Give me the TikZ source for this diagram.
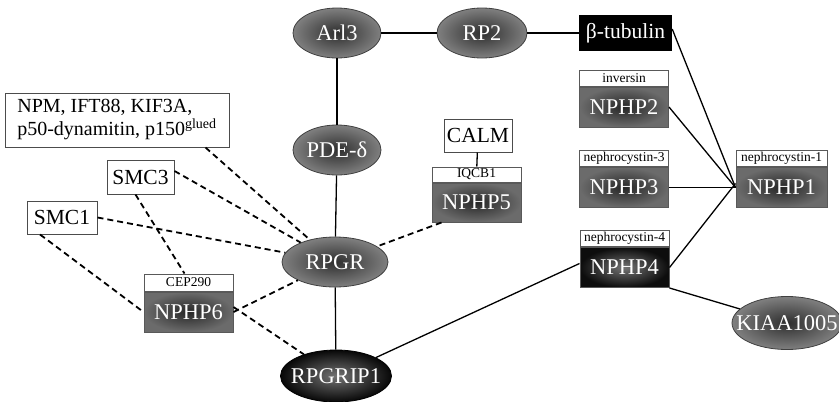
\documentclass[tikz,border=0pt]{standalone}
\usepackage{fontspec}
\setmainfont{Liberation Serif}
\usetikzlibrary{shapes.geometric}
\newcommand{\zw}[1]{\makebox[0pt]{#1}}
\begin{document}
\begin{tikzpicture}[x=1pt,y=-1pt,
  big/.style={font=\fontsize{22.5}{24}\selectfont},
  mid/.style={font=\fontsize{21.5}{24}\selectfont},
  oval/.style={ellipse,draw=black!75,line width=0.8pt,inner sep=0pt,big,text=white,
     inner color=black!82,outer color=black!50},
  darkoval/.style={ellipse,draw=black,line width=0.8pt,inner sep=0pt,big,text=white,
     inner color=black!55,outer color=black!97},
  wbox/.style={rectangle,draw=black!70,line width=1pt,fill=white,inner sep=0pt,mid},
  hdr/.style={rectangle,draw=black!65,line width=1pt,fill=white,inner sep=0pt,
     minimum width=89pt,minimum height=16pt,font=\fontsize{13.5}{14}\selectfont},
  mainbox/.style={rectangle,draw=black!65,line width=1pt,inner sep=0pt,big,text=white,
     minimum width=89pt,minimum height=40pt,inner color=black!85,outer color=black!58},
  darkbox/.style={mainbox,inner color=black!55,outer color=black!95},
  sl/.style={line width=1.3pt,black},
  dl/.style={line width=1.8pt,black,dash pattern=on 6pt off 4pt}]
\useasboundingbox (0,0) rectangle (839,402);
% ovals
\node[oval,minimum width=88pt,minimum height=50pt] (arl3) at (337,33) {\zw{Arl3}};
\node[oval,minimum width=90pt,minimum height=50pt] (rp2) at (482,33) {\zw{RP2}};
\node[oval,minimum width=88pt,minimum height=50pt] (pde) at (337,150) {\zw{PDE-δ}};
\node[oval,minimum width=106pt,minimum height=50pt] (rpgr) at (335,262) {\zw{RPGR}};
\node[darkoval,minimum width=111pt,minimum height=52pt] (rpgrip) at (336,376) {\zw{RPGRIP1}};
\node[oval,minimum width=110pt,minimum height=53pt] (kiaa) at (787,323) {\zw{KIAA1005}};
% black box
\node[rectangle,fill=black,inner sep=0pt,minimum width=93pt,minimum height=36pt,mid,text=white] (btub) at (625.5,33) {β-tubulin};
% white boxes
\node[wbox,minimum width=224pt,minimum height=54pt,align=left,font=\fontsize{20}{23}\selectfont] (npm) at (117,120)
  {NPM, IFT88, KIF3A,\\p50-dynamitin, p150\textsuperscript{glued}};
\node[wbox,minimum width=68pt,minimum height=33pt] (calm) at (478,135.5) {CALM};
\node[wbox,minimum width=67pt,minimum height=34pt] (smc3) at (140.5,177) {SMC3};
\node[wbox,minimum width=70pt,minimum height=33pt] (smc1) at (62,217.5) {SMC1};
% NPHP boxes
\node[mainbox] (nphp2) at (624,107) {NPHP2};
\node[hdr,anchor=south] (nphp2h) at (nphp2.north) {inversin};
\node[mainbox] (nphp3) at (624,187.5) {NPHP3};
\node[hdr,anchor=south] (nphp3h) at (nphp3.north) {nephrocystin-3};
\node[mainbox,minimum width=91pt] (nphp1) at (781.5,187.5) {NPHP1};
\node[hdr,anchor=south,minimum width=91pt] (nphp1h) at (nphp1.north) {nephrocystin-1};
\node[darkbox] (nphp4) at (624.5,267.5) {NPHP4};
\node[hdr,anchor=south] (nphp4h) at (nphp4.north) {nephrocystin-4};
\node[mainbox,minimum height=39pt] (nphp5) at (476.5,202.5) {NPHP5};
\node[hdr,anchor=south,minimum height=15pt] (nphp5h) at (nphp5.north) {IQCB1};
\node[mainbox] (nphp6) at (188.5,312) {NPHP6};
\node[hdr,anchor=south,minimum height=17pt] (nphp6h) at (nphp6.north) {CEP290};
% solid connectors
\draw[sl] (arl3) -- (rp2);
\draw[sl] (rp2) -- (btub);
\draw[sl] (arl3) -- (pde);
\draw[sl] (pde) -- (rpgr);
\draw[sl] (rpgr) -- (rpgrip);
\draw[sl] (calm) -- (nphp5h);
\draw[sl] ([yshift=4pt]btub.east) -- (nphp1.west);
\draw[sl] (nphp2.east) -- (nphp1.west);
\draw[sl] (nphp3.east) -- (nphp1.west);
\draw[sl] (nphp4.east) -- ([yshift=4pt]nphp1.west);
\draw[sl] (rpgrip) -- ([yshift=4pt]nphp4.west);
\draw[sl] (nphp4.south east) -- (kiaa);
% dashed connectors
\draw[dl] ([xshift=-24pt]npm.south east) -- (rpgr);
\draw[dl] ([yshift=6pt]smc3.east) -- (rpgr);
\draw[dl] (smc1.east) -- (rpgr);
\draw[dl] ([xshift=-5pt]smc3.south) -- ([xshift=-4pt]nphp6h.north);
\draw[dl] ([xshift=-22pt]smc1.south) -- (nphp6.west);
\draw[dl] (nphp6.east) -- (rpgr);
\draw[dl] ([yshift=5pt]nphp6.east) -- (rpgrip);
\draw[dl] ([xshift=10pt]nphp5.south west) -- (rpgr);
\end{tikzpicture}
\end{document}
